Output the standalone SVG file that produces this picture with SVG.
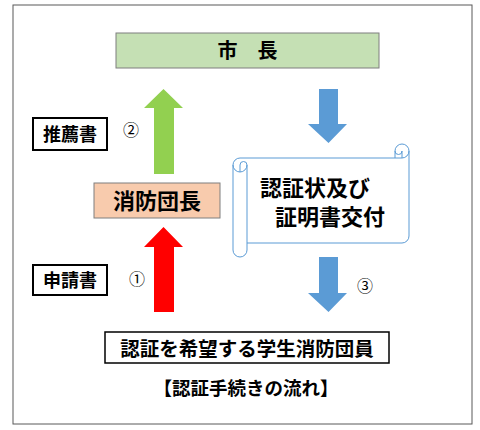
<svg xmlns="http://www.w3.org/2000/svg" width="480" height="430" viewBox="0 0 480 430">
<style>
text{font-family:"Noto Sans CJK JP","Noto Sans CJK SC",sans-serif;fill:#000}
.b{font-weight:bold}
.lbl{fill:#fff;stroke:#000;stroke-width:2}
.num{font-size:16px;text-anchor:middle}
</style>
<rect x="13" y="5" width="459" height="419" fill="#fff" stroke="#595959" stroke-width="1"/>
<g id="connectors">
<polygon id="arrow-green" points="154,174 154,108 144,108 163.5,89 183,108 174,108 174,174" fill="#92d050"/>
<polygon id="arrow-red" points="154,312 154,247 144,247 163.5,227 183,247 174,247 174,312" fill="#ff0000"/>
<polygon id="arrow-blue1" points="319,89 338,89 338,124 347,124 328.5,143 308,124 319,124" fill="#5b9bd5"/>
<polygon id="arrow-blue2" points="319,257 338,257 338,293 347,293 328.5,312 308,293 319,293" fill="#5b9bd5"/>
</g>
<g id="mayor">
<rect x="116" y="33" width="263" height="35" fill="#c5e0b4" stroke="#7f7f7f" stroke-width="1"/>
<text x="247.5" y="57.5" font-size="20" class="b" text-anchor="middle">市　長</text>
</g>
<g id="recommend">
<rect x="33" y="118" width="74" height="32" class="lbl"/>
<text x="70" y="141" font-size="18" class="b" text-anchor="middle">推薦書</text>
<text x="131" y="135.5" class="num">②</text>
</g>
<g id="chief">
<rect x="94" y="183" width="126" height="35" fill="#f8cbad" stroke="#7f7f7f" stroke-width="1"/>
<text x="157" y="208.5" font-size="22" class="b" text-anchor="middle">消防団長</text>
</g>
<g id="application">
<rect x="33" y="265" width="74" height="30" class="lbl"/>
<text x="70" y="287" font-size="18" class="b" text-anchor="middle">申請書</text>
<text x="137" y="284.5" class="num">①</text>
</g>
<g id="certificate">
<path d="M233,165 A7,7 0 0 1 240,158 L395,158 L395,151 A7,7 0 0 1 409,151 L409,236 A7,7 0 0 1 402,243 L247,243 L247,250 A7,7 0 0 1 233,250 Z" fill="#fff" stroke="#5b9bd5" stroke-width="1"/>
<path d="M395,158 L402,158 A7,7 0 0 0 409,151 M402,158 L402,151 A3.5,3.5 0 0 1 395,151 M240,172 L240,165 A3.5,3.5 0 0 1 247,165 A7,7 0 0 1 233,165 M247,165 L247,243" fill="none" stroke="#5b9bd5" stroke-width="1"/>
<text x="260" y="196" font-size="22" class="b">認証状及び</text>
<text x="275" y="225" font-size="22" class="b">証明書交付</text>
<text x="365" y="291.5" class="num">③</text>
</g>
<g id="student">
<rect x="105" y="332" width="284" height="31" fill="#fff" stroke="#000" stroke-width="1.5"/>
<text x="247" y="356" font-size="19.5" class="b" text-anchor="middle">認証を希望する学生消防団員</text>
</g>
<text x="246" y="394.5" font-size="18.5" class="b" text-anchor="middle">【認証手続きの流れ】</text>
</svg>
